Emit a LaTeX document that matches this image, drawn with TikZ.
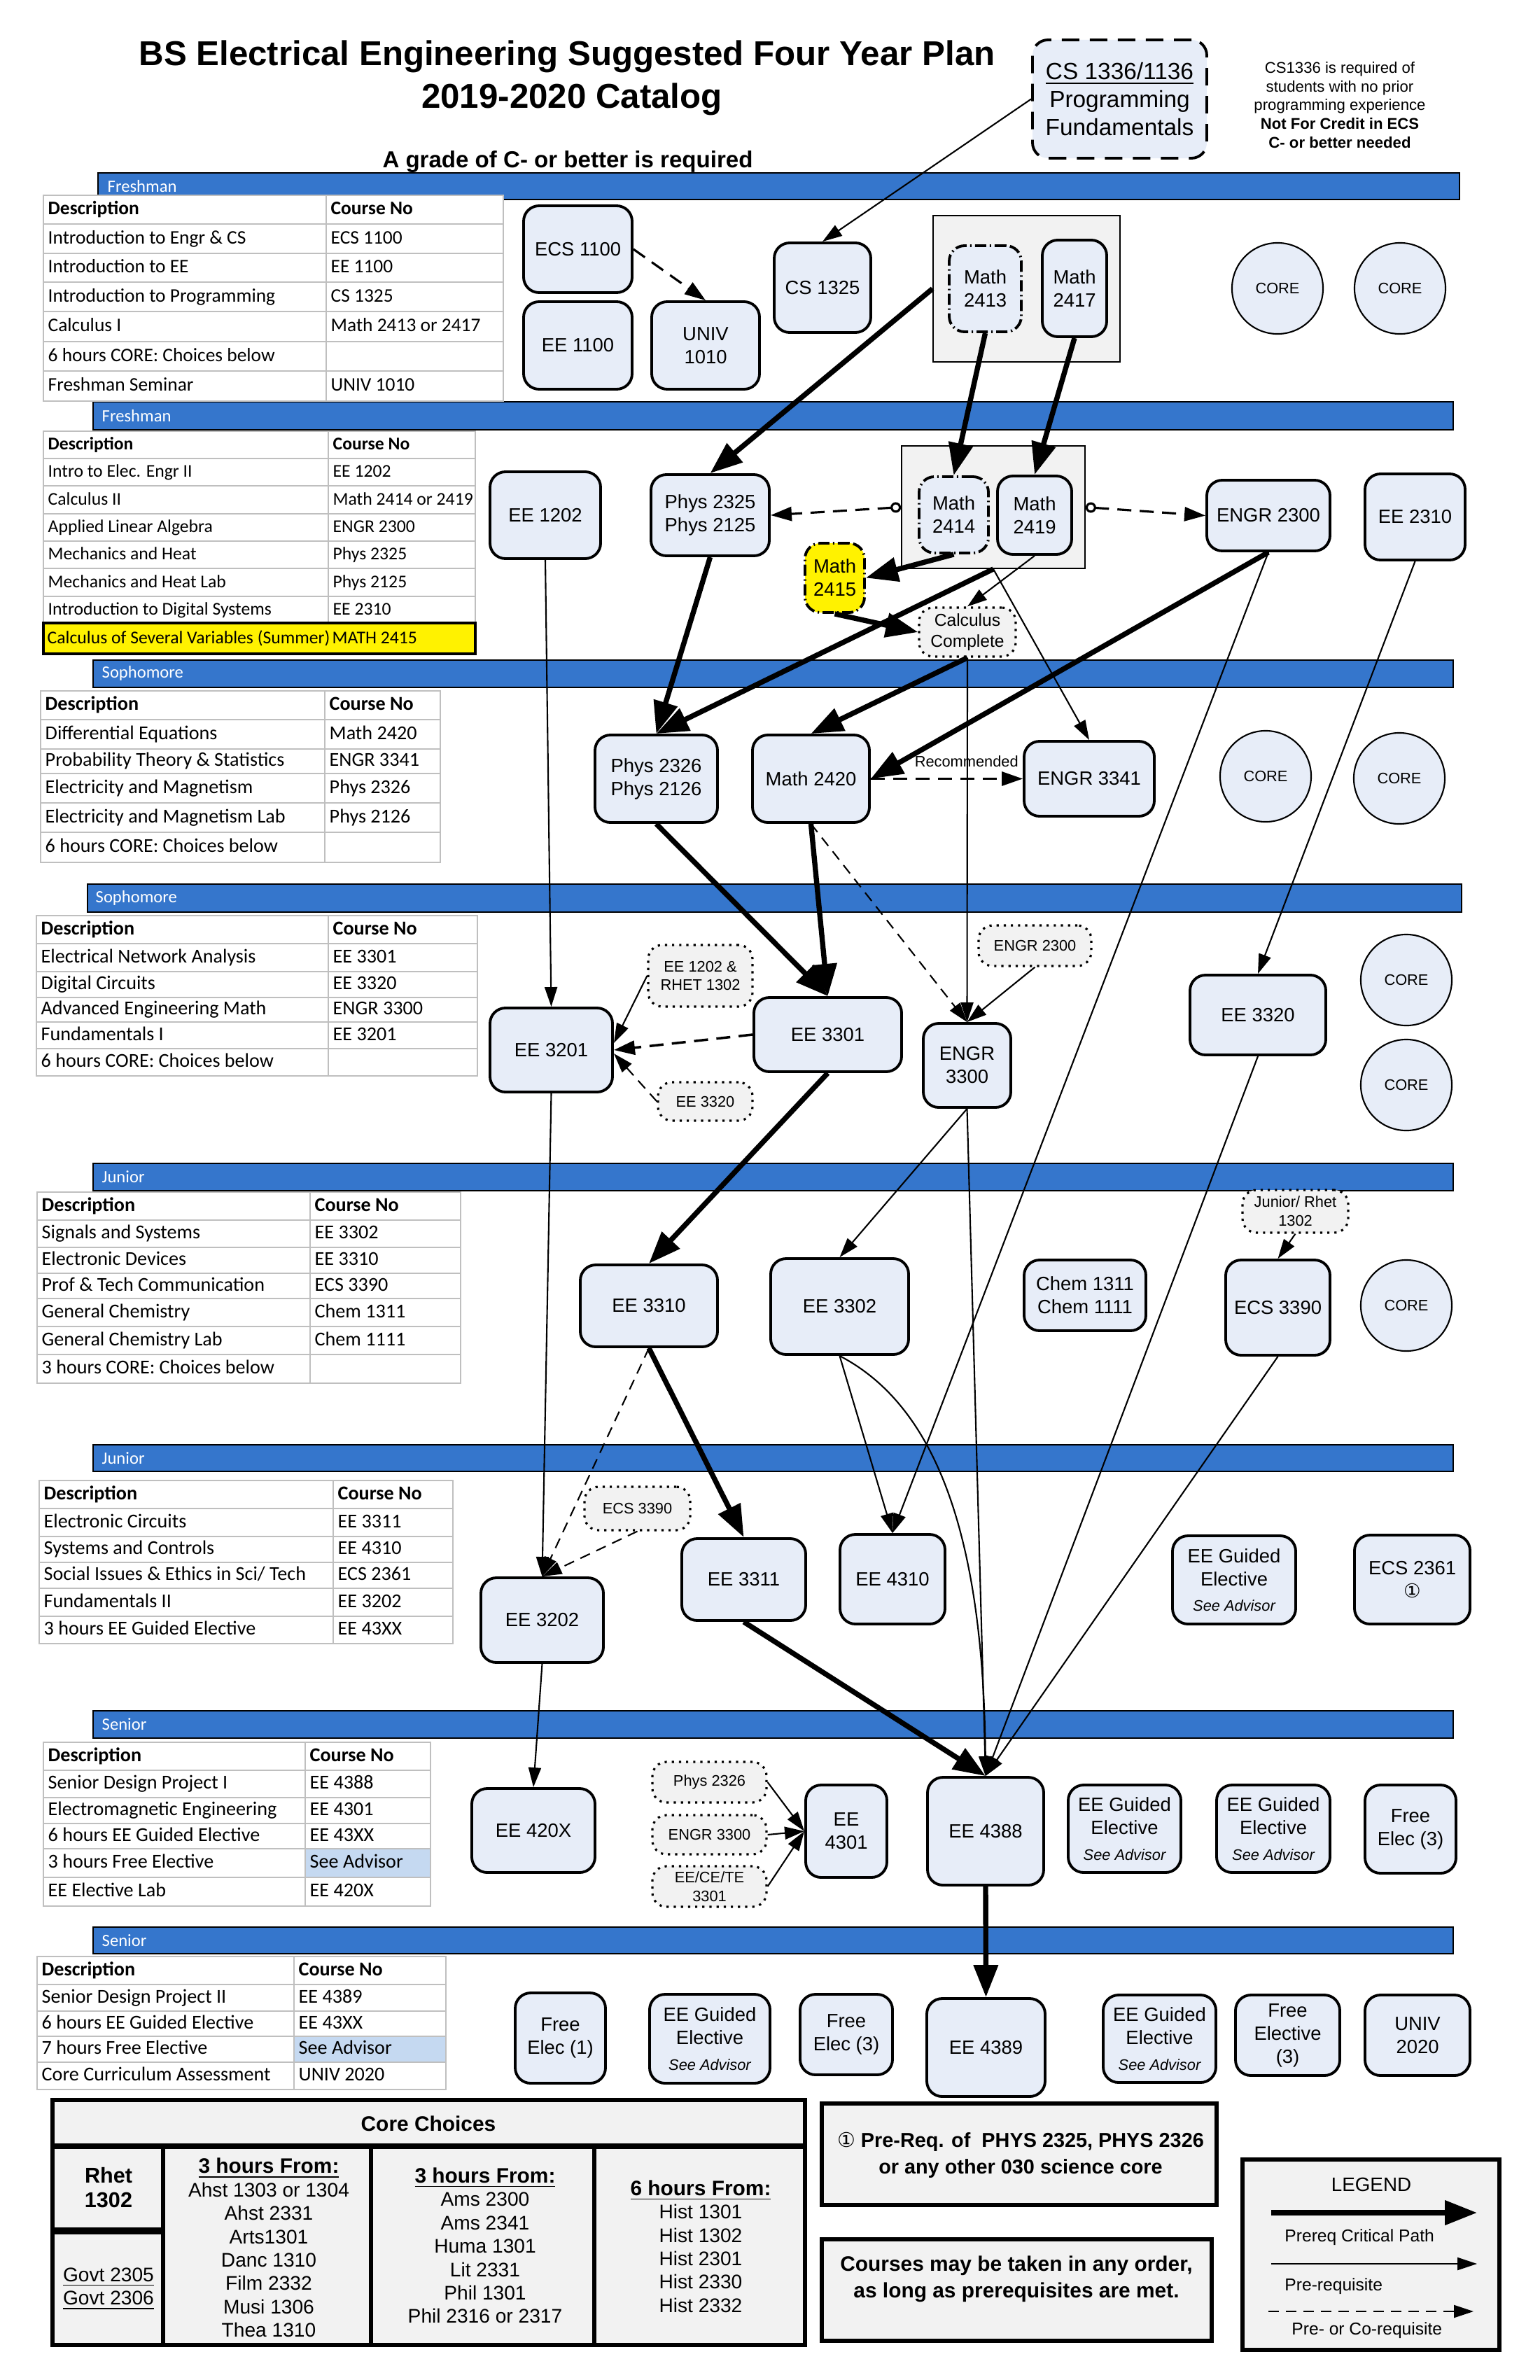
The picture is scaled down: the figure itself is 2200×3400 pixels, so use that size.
\documentclass[tikz,border=0pt]{standalone}
\usepackage{fontspec}
\setmainfont{Liberation Sans}
\newfontfamily\calfont{Carlito}
\newfontfamily\djfont{DejaVu Sans}
\usetikzlibrary{arrows.meta}
\definecolor{barblue}{RGB}{53,118,204}
\definecolor{nodefill}{RGB}{231,237,248}
\definecolor{notefill}{RGB}{242,242,242}
\definecolor{gridgrey}{RGB}{191,191,191}
\definecolor{advisor}{RGB}{197,217,241}
\newcommand\crs[7][]{%
  \pgfmathsetmacro\myCX{(#3+#5)/2}%
  \pgfmathsetmacro\myCY{(#4+#6)/2}%
  \pgfmathsetmacro\myW{(#5-#3)*0.01}%
  \pgfmathsetmacro\myH{(#6-#4)*0.01}%
  \node[course,#1,minimum width=\myW cm,minimum height=\myH cm] (#2) at (\myCX,\myCY) {#7};}
\def\tabfs{7.8}
\newcommand\trow[8][white]{%
  \draw[tabline, fill=white] (#2,#5) rectangle (#3,#6);
  \draw[tabline, fill=#1] (#3,#5) rectangle (#4,#6);
  \node[tabtext] at ({#2+6},{(#5+#6)/2}) {#7};
  \node[tabtext] at ({#3+6},{(#5+#6)/2}) {#8};}
\tikzset{
  course/.style={draw, line width=1.1pt, rounded corners=0.22cm, fill=nodefill, align=center, inner sep=1pt, font=\fontsize{7.8}{9.4}\selectfont},
  notebox/.style={draw, line width=0.9pt, dotted, rounded corners=0.2cm, fill=notefill, align=center, inner sep=1pt, font=\fontsize{6.2}{7.6}\selectfont},
  corec/.style={circle, draw, line width=0.6pt, fill=nodefill, minimum size=1.3cm, inner sep=0pt, font=\fontsize{6.2}{7}\selectfont},
  dashdot/.style={dash pattern=on 0.16cm off 0.05cm on 0.02cm off 0.05cm},
  yearbar/.style={draw=black, line width=0.5pt, fill=barblue},
  barlabel/.style={anchor=west, text=white, inner sep=0pt, font=\calfont\fontsize{7}{8}\selectfont},
  crit/.style={line width=2.1pt, -{Triangle[length=0.46cm,width=0.34cm]}},
  pre/.style={line width=0.6pt, -{Triangle[length=0.28cm,width=0.18cm]}},
  co/.style={line width=0.9pt, dash pattern=on 0.2cm off 0.12cm, -{Triangle[length=0.3cm,width=0.2cm]}},
  cothin/.style={line width=0.6pt, dash pattern=on 0.15cm off 0.1cm, -{Triangle[length=0.28cm,width=0.18cm]}},
  circstart/.style={{Circle[open,length=0.15cm,width=0.15cm]}-{Triangle[length=0.3cm,width=0.2cm]}},
  tabline/.style={draw=gridgrey, line width=0.8pt},
  tabtext/.style={anchor=west, inner sep=0pt, text height=5.6pt, text depth=1.6pt, font=\calfont\fontsize{\tabfs}{9}\selectfont},
  bigbox/.style={draw, line width=1.6pt, fill=notefill},
  coretxt/.style={align=center, font=\fontsize{8}{9.5}\selectfont},
}
\begin{document}
\begin{tikzpicture}[x=0.01cm,y=-0.01cm]
\fill[white] (0,0) rectangle (2200,3400);

% ---------- titles ----------
\node[font=\bfseries\fontsize{14}{16}\selectfont, anchor=base] (title1) at (810,94) {BS Electrical Engineering Suggested Four Year Plan};
\node[font=\bfseries\fontsize{14}{16}\selectfont, anchor=base] (title2) at (817,155) {2019-2020 Catalog};
\node[font=\bfseries\fontsize{9.4}{11}\selectfont, anchor=base] (grade) at (811,239) {A grade of C- or better is required};
\node[align=center, font=\fontsize{6.3}{7.65}\selectfont] (csnote) at (1914,150) {CS1336 is required of\\students with no prior\\programming experience\\\textbf{Not For Credit in ECS}\\\textbf{C- or better needed}};

% ---------- year bars ----------
\draw[yearbar] (140,247) rectangle (2085,285);   \node[barlabel] (bl1) at (153,266) {Freshman};
\draw[yearbar] (133,574) rectangle (2076,614);   \node[barlabel] (bl2) at (145,594) {Freshman};
\draw[yearbar] (133,943) rectangle (2076,982);   \node[barlabel] (bl3) at (145,962) {Sophomore};
\draw[yearbar] (125,1263) rectangle (2088,1303); \node[barlabel] (bl4) at (136,1283) {Sophomore};
\draw[yearbar] (133,1662) rectangle (2076,1701); \node[barlabel] (bl5) at (145,1681) {Junior};
\draw[yearbar] (133,2064) rectangle (2076,2102); \node[barlabel] (bl6) at (145,2083) {Junior};
\draw[yearbar] (133,2444) rectangle (2076,2483); \node[barlabel] (bl7) at (145,2463) {Senior};
\draw[yearbar] (133,2753) rectangle (2076,2791); \node[barlabel] (bl8) at (145,2772) {Senior};

% ---------- tables ----------
\def\tabfs{7.8}
\trow{62}{466}{719}{279}{320}{\bfseries Description}{\bfseries Course No}
\trow{62}{466}{719}{320}{362}{Introduction to Engr \& CS}{ECS 1100}
\trow{62}{466}{719}{362}{403}{Introduction to EE}{EE 1100}
\trow{62}{466}{719}{403}{445}{Introduction to Programming}{CS 1325}
\trow{62}{466}{719}{445}{488}{Calculus I}{Math 2413 or 2417}
\trow{62}{466}{719}{488}{530}{6 hours CORE: Choices below}{}
\trow{62}{466}{719}{530}{573}{Freshman Seminar}{UNIV 1010}

\def\tabfs{7.3}
\trow{62}{469}{679}{616}{655}{\bfseries Description}{\bfseries Course No}
\trow{62}{469}{679}{655}{694}{Intro to Elec. Engr II}{EE 1202}
\trow{62}{469}{679}{694}{734}{Calculus II}{Math 2414 or 2419}
\trow{62}{469}{679}{734}{773}{Applied Linear Algebra}{ENGR 2300}
\trow{62}{469}{679}{773}{812}{Mechanics and Heat}{Phys 2325}
\trow{62}{469}{679}{812}{852}{Mechanics and Heat Lab}{Phys 2125}
\trow{62}{469}{679}{852}{890}{Introduction to Digital Systems}{EE 2310}
\draw[draw=black, line width=1pt, fill=yellow] (62,890) rectangle (679,934);
\node[tabtext] (ylw1) at (67,912) {Calculus of Several Variables (Summer)};
\node[tabtext] (ylw2) at (474,912) {MATH 2415};

\def\tabfs{8}
\trow{58}{464}{629}{987}{1028}{\bfseries Description}{\bfseries Course No}
\trow{58}{464}{629}{1028}{1070}{Differential Equations}{Math 2420}
\trow{58}{464}{629}{1070}{1105}{Probability Theory \& Statistics}{ENGR 3341}
\trow{58}{464}{629}{1105}{1147}{Electricity and Magnetism}{Phys 2326}
\trow{58}{464}{629}{1147}{1189}{Electricity and Magnetism Lab}{Phys 2126}
\trow{58}{464}{629}{1189}{1232}{6 hours CORE: Choices below}{}

\trow{52}{469}{682}{1308}{1348}{\bfseries Description}{\bfseries Course No}
\trow{52}{469}{682}{1348}{1388}{Electrical Network Analysis}{EE 3301}
\trow{52}{469}{682}{1388}{1425}{Digital Circuits}{EE 3320}
\trow{52}{469}{682}{1425}{1460}{Advanced Engineering Math}{ENGR 3300}
\trow{52}{469}{682}{1460}{1498}{Fundamentals I}{EE 3201}
\trow{52}{469}{682}{1498}{1537}{6 hours CORE: Choices below}{}

\trow{53}{443}{658}{1703}{1743}{\bfseries Description}{\bfseries Course No}
\trow{53}{443}{658}{1743}{1782}{Signals and Systems}{EE 3302}
\trow{53}{443}{658}{1782}{1819}{Electronic Devices}{EE 3310}
\trow{53}{443}{658}{1819}{1855}{Prof \& Tech Communication}{ECS 3390}
\trow{53}{443}{658}{1855}{1895}{General Chemistry}{Chem 1311}
\trow{53}{443}{658}{1895}{1935}{General Chemistry Lab}{Chem 1111}
\trow{53}{443}{658}{1935}{1976}{3 hours CORE: Choices below}{}

\trow{56}{476}{647}{2115}{2155}{\bfseries Description}{\bfseries Course No}
\trow{56}{476}{647}{2155}{2195}{Electronic Circuits}{EE 3311}
\trow{56}{476}{647}{2195}{2232}{Systems and Controls}{EE 4310}
\trow{56}{476}{647}{2232}{2269}{Social Issues \& Ethics in Sci/ Tech}{ECS 2361}
\trow{56}{476}{647}{2269}{2309}{Fundamentals II}{EE 3202}
\trow{56}{476}{647}{2309}{2348}{3 hours EE Guided Elective}{EE 43XX}

\trow{62}{436}{615}{2489}{2529}{\bfseries Description}{\bfseries Course No}
\trow{62}{436}{615}{2529}{2568}{Senior Design Project I}{EE 4388}
\trow{62}{436}{615}{2568}{2605}{Electromagnetic Engineering}{EE 4301}
\trow{62}{436}{615}{2605}{2641}{6 hours EE Guided Elective}{EE 43XX}
\trow[advisor]{62}{436}{615}{2641}{2682}{3 hours Free Elective}{See Advisor}
\trow{62}{436}{615}{2682}{2723}{EE Elective Lab}{EE 420X}

\trow{53}{420}{637}{2795}{2835}{\bfseries Description}{\bfseries Course No}
\trow{53}{420}{637}{2835}{2873}{Senior Design Project II}{EE 4389}
\trow{53}{420}{637}{2873}{2909}{6 hours EE Guided Elective}{EE 43XX}
\trow[advisor]{53}{420}{637}{2909}{2946}{7 hours Free Elective}{See Advisor}
\trow{53}{420}{637}{2946}{2985}{Core Curriculum Assessment}{UNIV 2020}

% ---------- course nodes ----------
\crs[dash pattern=on 0.25cm off 0.15cm, font=\fontsize{9.5}{11.3}\selectfont]{cs1336}{1475}{57}{1724}{226}{\underline{CS 1336/1136}\\Programming\\Fundamentals}
% Freshman 1
\crs{ecs1100}{748}{294}{903}{418}{ECS 1100}
\crs{ee1100}{748}{431}{903}{556}{EE 1100}
\crs{univ1010}{931}{431}{1085}{556}{UNIV\\1010}
\crs{cs1325}{1106}{347}{1244}{475}{CS 1325}
\crs[sharp corners, line width=0.5pt, fill=notefill]{gbox1}{1333}{308}{1600}{517}{}
\crs[dashdot]{m2413}{1356}{351}{1459}{474}{Math\\2413}
\crs{m2417}{1489}{343}{1581}{481}{Math\\2417}
\node[corec] (core1a) at (1825,412) {CORE};
\node[corec] (core1b) at (2000,412) {CORE};
% Freshman 2
\crs{ee1202}{700}{674}{858}{798}{EE 1202}
\crs{phys2325}{930}{678}{1099}{794}{Phys 2325\\Phys 2125}
\crs[sharp corners, line width=0.5pt, fill=notefill]{gbox2}{1288}{637}{1550}{812}{}
\crs[dashdot]{m2414}{1313}{681}{1412}{790}{Math\\2414}
\crs{m2419}{1425}{680}{1531}{792}{Math\\2419}
\crs[dashdot, fill=yellow]{m2415}{1150}{776}{1235}{875}{Math\\2415}
\crs[notebox, font=\fontsize{7}{8.6}\selectfont]{calc}{1313}{868}{1451}{938}{Calculus\\Complete}
\crs{engr2300}{1724}{686}{1900}{787}{ENGR 2300}
\crs{ee2310}{1950}{677}{2093}{800}{EE 2310}
% Sophomore 1
\crs{phys2326}{850}{1050}{1025}{1175}{Phys 2326\\Phys 2126}
\crs{m2420}{1075}{1050}{1242}{1175}{Math 2420}
\crs{engr3341}{1463}{1059}{1649}{1166}{ENGR 3341}
\node[corec] (core2a) at (1808,1109) {CORE};
\node[corec] (core2b) at (1999,1112) {CORE};
% Sophomore 2
\crs{ee3201}{700}{1440}{875}{1560}{EE 3201}
\crs[notebox]{n1202}{926}{1350}{1075}{1438}{EE 1202 \&\\RHET 1302}
\crs[notebox]{n3320}{940}{1546}{1075}{1601}{EE 3320}
\crs{ee3301}{1077}{1425}{1288}{1531}{EE 3301}
\crs{engr3300}{1319}{1462}{1444}{1582}{ENGR\\3300}
\crs[notebox]{n2300}{1398}{1322}{1559}{1380}{ENGR 2300}
\crs{ee3320}{1700}{1393}{1894}{1507}{EE 3320}
\node[corec] (core3a) at (2009,1400) {CORE};
\node[corec] (core3b) at (2009,1550) {CORE};
% Junior 1
\crs{ee3310}{829}{1807}{1025}{1924}{EE 3310}
\crs{ee3302}{1101}{1798}{1298}{1935}{EE 3302}
\crs{chem}{1463}{1800}{1637}{1901}{Chem 1311\\Chem 1111}
\crs{ecs3390}{1751}{1800}{1900}{1936}{ECS 3390}
\crs[notebox]{njr}{1775}{1700}{1926}{1761}{Junior/ Rhet\\1302}
\node[corec] (core4) at (2009,1865) {CORE};
% Junior 2
\crs{ee3202}{687}{2254}{862}{2375}{EE 3202}
\crs[notebox]{n3390}{835}{2124}{986}{2186}{ECS 3390}
\crs{ee3311}{974}{2198}{1151}{2315}{EE 3311}
\crs{ee4310}{1200}{2192}{1350}{2320}{EE 4310}
\crs{eeg1}{1675}{2194}{1851}{2320}{EE Guided\\Elective\\[1pt]{\fontsize{6.2}{7}\selectfont\itshape See Advisor}}
\crs{ecs2361}{1935}{2193}{2100}{2320}{ECS 2361\\{\djfont\fontsize{7.8}{9.4}\selectfont ①}}
% Senior 1
\crs{ee420x}{674}{2555}{850}{2675}{EE 420X}
\crs[notebox]{np2326}{932}{2517}{1095}{2575}{Phys 2326}
\crs[notebox]{ne3300}{932}{2593}{1095}{2649}{ENGR 3300}
\crs[notebox]{nee3301}{932}{2666}{1095}{2724}{EE/CE/TE\\3301}
\crs{ee4301}{1151}{2550}{1267}{2682}{EE\\4301}
\crs{ee4388}{1325}{2539}{1491}{2693}{EE 4388}
\crs{eeg2}{1526}{2550}{1687}{2675}{EE Guided\\Elective\\[1pt]{\fontsize{6.2}{7}\selectfont\itshape See Advisor}}
\crs{eeg3}{1738}{2550}{1900}{2675}{EE Guided\\Elective\\[1pt]{\fontsize{6.2}{7}\selectfont\itshape See Advisor}}
\crs{freeA}{1950}{2550}{2080}{2676}{Free\\Elec (3)}
% Senior 2
\crs{freeB}{736}{2847}{865}{2976}{Free\\Elec (1)}
\crs{eeg4}{928}{2849}{1100}{2976}{EE Guided\\Elective\\[1pt]{\fontsize{6.2}{7}\selectfont\itshape See Advisor}}
\crs{freeC}{1143}{2849}{1275}{2964}{Free\\Elec (3)}
\crs{ee4389}{1324}{2855}{1493}{2995}{EE 4389}
\crs{eeg5}{1576}{2850}{1737}{2975}{EE Guided\\Elective\\[1pt]{\fontsize{6.2}{7}\selectfont\itshape See Advisor}}
\crs{freeD}{1765}{2850}{1914}{2965}{Free\\Elective\\(3)}
\crs{univ2020}{1950}{2850}{2100}{2965}{UNIV\\2020}

% ---------- connectors ----------
\draw[pre] (cs1336.west) -- (cs1325.north);
\draw[co] (ecs1100.east) -- (univ1010.north);
\draw[crit] (gbox1.west) -- (phys2325.north);
\draw[crit] (m2413.south) -- (m2414.north);
\draw[crit] (m2417.south) -- (m2419.north);
\draw[co, circstart] (gbox2.west) -- (phys2325.east);
\draw[co, circstart] (gbox2.east) -- (engr2300.west);
\draw[crit] (m2414.south) -- (m2415.east);
\draw[crit] (m2415.south) -- (calc.west);
\draw[pre] (m2419.south) -- (calc.north);
\draw[crit] (gbox2.south) -- (phys2326.north);
\draw[pre] (gbox2.south) -- (engr3341.north);
\draw[crit] (calc.south) -- (m2420.north);
\draw[pre] (calc.south) -- (engr3300.north);
\draw[crit] (engr2300.south) -- (m2420.east);
\draw[pre] (engr2300.south) -- (ee4310.north);
\draw[pre] (ee2310.south) -- (ee3320.north);
\draw[pre] (ee1202.south) -- (ee3201.north);
\draw[crit] (phys2325.south) -- (phys2326.north);
\draw[co] (m2420.east) -- node[pos=0.63, above=1pt, font=\fontsize{6.2}{7}\selectfont] (reclab) {Recommended} (engr3341.west);
\draw[crit] (phys2326.south) -- (ee3301.north);
\draw[crit] (m2420.south) -- (ee3301.north);
\draw[cothin] (m2420.south) -- (engr3300.north);
\draw[pre] (n2300.south) -- (engr3300.north);
\draw[co, line width=1pt] (ee3301.west) -- (ee3201.east);
\draw[pre] (n1202.west) -- ([yshift=0.1cm]ee3201.east);
\draw[cothin] (n3320.west) -- ([yshift=-0.05cm]ee3201.east);
\draw[pre] (ee3201.south) -- (ee3202.north);
\draw[crit] (ee3301.south) -- (ee3310.north);
\draw[pre] (engr3300.south) -- (ee3302.north);
\draw[pre] (engr3300.south) -- (ee4388.north);
\draw[pre] (ee3320.south) -- (ee4388.north);
\draw[pre] (ecs3390.south) -- (ee4388.north);
\draw[pre] (njr.south) -- (ecs3390.north);
\draw[cothin] (ee3310.south) -- (ee3202.north);
\draw[cothin] (n3390.south) -- (ee3202.north);
\draw[crit] (ee3310.south) -- (ee3311.north);
\draw[pre] (ee3302.south) -- (ee4310.north);
\draw[pre] (ee3302.south) .. controls (1340,2010) and (1405,2200) .. (ee4388.north);
\draw[pre] (ee3202.south) -- (ee420x.north);
\draw[crit] (ee3311.south) -- (ee4388.north);
\draw[pre] (np2326.east) -- (ee4301.west);
\draw[pre] (ne3300.east) -- (ee4301.west);
\draw[pre] (nee3301.east) -- (ee4301.west);
\draw[crit] (ee4388.south) -- (ee4389.north);

% ---------- core choices ----------
\draw[bigbox] (75,3000) rectangle (1150,3350);
\draw[line width=2.2pt] (75,3066) -- (1150,3066);
\draw[line width=1.6pt] (233,3066) -- (233,3350);
\draw[line width=1.6pt] (530,3066) -- (530,3350);
\draw[line width=1.6pt] (849,3066) -- (849,3350);
\draw[line width=3pt] (75,3187) -- (233,3187);
\node[font=\bfseries\fontsize{8.5}{10}\selectfont] (corehead) at (612,3034) {Core Choices};
\node[align=center, font=\bfseries\fontsize{8.7}{10.2}\selectfont] (rhet) at (155,3125) {Rhet\\1302};
\node[coretxt] (govt) at (155,3270) {\underline{Govt 2305}\\\underline{Govt 2306}};
\node[coretxt] (colA) at (384,3211) {\underline{\textbf{\fontsize{8.5}{9.5}\selectfont 3 hours From:}}\\Ahst 1303 or 1304\\Ahst 2331\\Arts1301\\Danc 1310\\Film 2332\\Musi 1306\\Thea 1310};
\node[coretxt] (colB) at (693,3208) {\underline{\textbf{\fontsize{8.5}{9.5}\selectfont 3 hours From:}}\\Ams 2300\\Ams 2341\\Huma 1301\\Lit 2331\\Phil 1301\\Phil 2316 or 2317};
\node[coretxt] (colC) at (1001,3209) {\underline{\textbf{\fontsize{8.5}{9.5}\selectfont 6 hours From:}}\\Hist 1301\\Hist 1302\\Hist 2301\\Hist 2330\\Hist 2332};

% ---------- notes ----------
\draw[bigbox] (1174,3005) rectangle (1738,3150);
\node[align=center, font=\bfseries\fontsize{8.2}{10.8}\selectfont] (prereq) at (1458,3079) {{\djfont\mdseries ①} Pre-Req. of\ \ PHYS 2325, PHYS 2326\\or any other 030 science core};
\draw[bigbox] (1174,3199) rectangle (1731,3344);
\node[align=center, font=\bfseries\fontsize{8.5}{10.8}\selectfont] (order) at (1452,3256) {Courses may be taken in any order,\\as long as prerequisites are met.};

% ---------- legend ----------
\draw[bigbox] (1775,3085) rectangle (2142,3357);
\node[font=\fontsize{7.9}{9}\selectfont] (lgtitle) at (1959,3121) {LEGEND};
\coordinate (lg1a) at (1816,3161); \coordinate (lg1b) at (2110,3161);
\coordinate (lg2a) at (1816,3234); \coordinate (lg2b) at (2110,3234);
\coordinate (lg3a) at (1812,3302); \coordinate (lg3b) at (2105,3302);
\draw[crit] (lg1a) -- (lg1b);
\draw[pre] (lg2a) -- (lg2b);
\draw[cothin] (lg3a) -- (lg3b);
\node[anchor=west, font=\fontsize{7}{8}\selectfont] (lgt1) at (1823,3196) {Prereq Critical Path};
\node[anchor=west, font=\fontsize{7}{8}\selectfont] (lgt2) at (1823,3266) {Pre-requisite};
\node[anchor=west, font=\fontsize{7}{8}\selectfont] (lgt3) at (1833,3329) {Pre- or Co-requisite};
\end{tikzpicture}
\end{document}
